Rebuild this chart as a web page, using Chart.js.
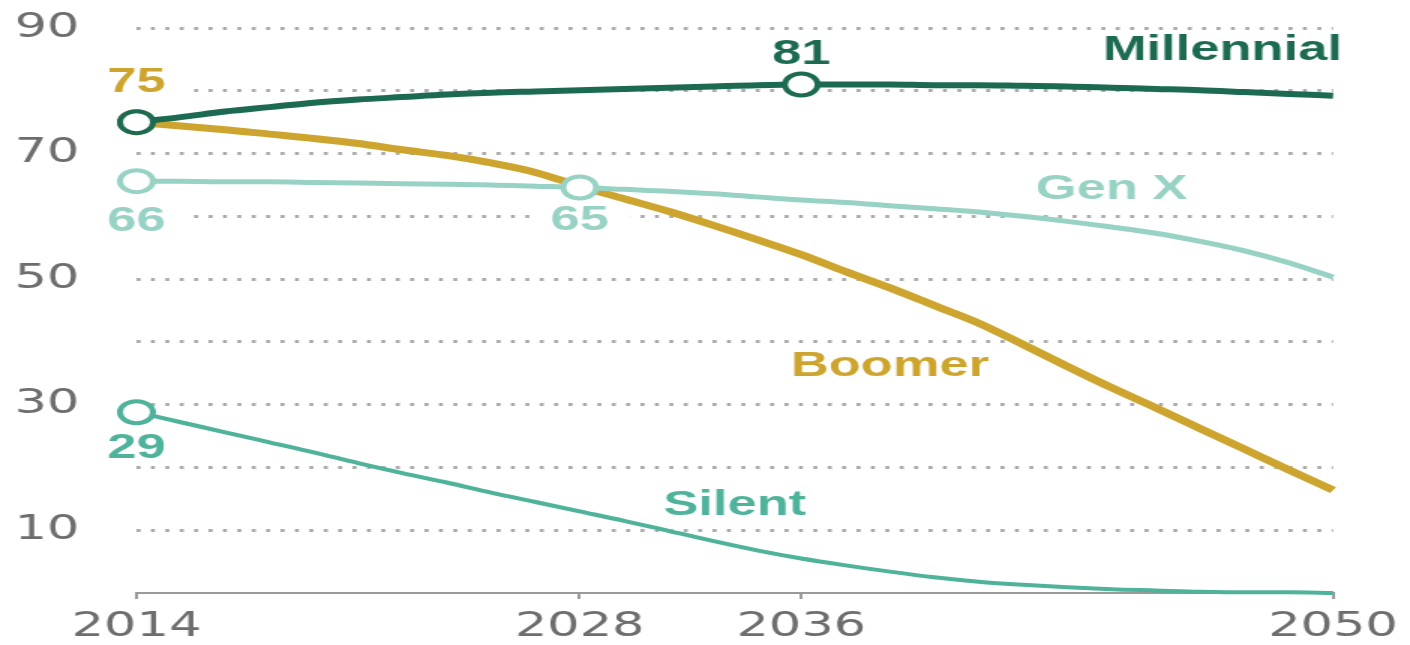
<!DOCTYPE html>
<html>
<head>
<meta charset="utf-8">
<script src="https://cdn.jsdelivr.net/npm/chart.js@4.4.1/dist/chart.umd.min.js"></script>
<style>
  html, body { margin: 0; padding: 0; background: #fff; overflow: hidden; }
  /* the source picture is stretched sideways, so the whole chart is too */
  #wrap { width: 940px; height: 645px; transform: scaleX(1.5); transform-origin: 0 0; }
</style>
</head>
<body>
<div id="wrap"><canvas id="chart"></canvas></div>
<script>
// --- DATA ---
// the source spaces its years unevenly; one slot = one step along the drawn axis
const years = ['2014','','','','','','','','','','2028','','','','','2036','','','','','','','','','','','','2050'];

const millennial = [75.0, 75.8, 76.7, 77.4, 78.1, 78.6, 79.0, 79.4, 79.7, 79.9, 80.1, 80.3, 80.5, 80.7, 80.9, 81.0, 81.0, 81.0, 80.9, 80.9, 80.8, 80.7, 80.5, 80.3, 80.1, 79.8, 79.5, 79.2];
const genX       = [65.6, 65.6, 65.5, 65.5, 65.4, 65.3, 65.2, 65.1, 65.0, 64.8, 64.6, 64.3, 64.0, 63.6, 63.1, 62.6, 62.2, 61.7, 61.2, 60.7, 60.0, 59.2, 58.3, 57.3, 56.0, 54.5, 52.6, 50.3];
const boomer     = [75.0, 74.4, 73.8, 73.1, 72.4, 71.6, 70.6, 69.7, 68.5, 67.0, 64.8, 62.8, 60.8, 58.6, 56.3, 53.9, 51.2, 48.6, 45.8, 43.0, 39.6, 36.1, 32.7, 29.5, 26.2, 22.9, 19.6, 16.4];
const silent     = [28.8, 27.2, 25.6, 24.0, 22.4, 20.7, 19.1, 17.6, 16.0, 14.5, 13.0, 11.5, 9.9, 8.3, 6.8, 5.5, 4.4, 3.4, 2.5, 1.8, 1.3, 0.9, 0.6, 0.4, 0.2, 0.1, 0.1, 0.0];

const yTickLabels = [10, 30, 50, 70, 90];

// years that get an open circle
const marks = {
    'Millennial': ['2014', '2036'],
    'Gen X': ['2014', '2028'],
    'Boomer': ['2014'],
    'Silent': ['2014']
};

// value callouts (text comes from the data)
const valueNotes = [
    { series: 'Boomer', year: '2014', dy: -40 },
    { series: 'Gen X', year: '2014', dy: 40 },
    { series: 'Millennial', year: '2036', dy: -30 },
    { series: 'Gen X', year: '2028', dy: 33 },
    { series: 'Silent', year: '2014', dy: 36 }
];

// series names, placed in data units (slot, value)
const nameNotes = [
    { text: 'Millennial', slot: 27.2, value: 86.5, align: 'right' },
    { text: 'Gen X', slot: 22, value: 64.3, align: 'center' },
    { text: 'Boomer', slot: 17, value: 36.1, align: 'center' },
    { text: 'Silent', slot: 13.5, value: 14.0, align: 'center' }
];

const colors = {
    'Millennial': '#1d6a52',
    'Gen X': '#98d2c4',
    'Boomer': '#cda52e',
    'Silent': '#4fb29b'
};

// --- CHART ---
const tickFont = { family: 'DejaVu Sans', size: 34 };
const noteFont = "bold 35px 'Liberation Sans', Arial, sans-serif";
const clear = 'rgba(0,0,0,0)';

function makeSet(name, data, width) {
    return {
        label: name,
        data: data,
        borderColor: colors[name],
        borderWidth: width,
        cubicInterpolationMode: 'monotone',
        pointRadius: c => marks[name].includes(years[c.dataIndex]) ? 11 : 0,
        pointHoverRadius: 0,
        pointBackgroundColor: '#fff',
        pointBorderColor: colors[name],
        pointBorderWidth: 4,
        clip: false
    };
}

const notesPlugin = {
    id: 'notes',
    afterDatasetsDraw(chart) {
        const ctx = chart.ctx;
        const xs = chart.scales.x, ys = chart.scales.y;
        ctx.save();
        ctx.font = noteFont;
        ctx.textBaseline = 'middle';

        valueNotes.forEach(n => {
            const di = chart.data.datasets.findIndex(d => d.label === n.series);
            const idx = years.indexOf(n.year);
            const val = chart.data.datasets[di].data[idx];
            const txt = String(Math.round(val));
            const x = xs.getPixelForValue(idx);
            const y = ys.getPixelForValue(val) + n.dy;
            const w = ctx.measureText(txt).width;
            ctx.fillStyle = '#fff';
            ctx.fillRect(x - w / 2 - 14, y - 15, w + 28, 30);
            ctx.fillStyle = colors[n.series];
            ctx.textAlign = 'center';
            ctx.fillText(txt, x, y);
        });

        nameNotes.forEach(n => {
            ctx.fillStyle = colors[n.text];
            ctx.textAlign = n.align;
            ctx.fillText(n.text, xs.getPixelForValue(n.slot), ys.getPixelForValue(n.value));
        });
        ctx.restore();
    }
};

new Chart(document.getElementById('chart'), {
    type: 'line',
    data: {
        labels: years,
        datasets: [
            makeSet('Millennial', millennial, 6),
            makeSet('Gen X', genX, 5),
            makeSet('Silent', silent, 4),
            makeSet('Boomer', boomer, 7)
        ]
    },
    options: {
        responsive: true,
        maintainAspectRatio: false,
        animation: false,
        layout: { padding: { top: 28, right: 47, bottom: 0, left: 0 } },
        plugins: { legend: { display: false }, tooltip: { enabled: false } },
        scales: {
            x: {
                afterFit: s => { s.height = 52; },
                grid: {
                    drawOnChartArea: false,
                    tickLength: 6,
                    lineWidth: 2,
                    color: c => years[c.index] ? '#9a9a9a' : clear
                },
                border: { display: true, color: '#9a9a9a', width: 2 },
                ticks: {
                    autoSkip: false,
                    maxRotation: 0,
                    padding: 8,
                    color: '#6d6d6d',
                    font: tickFont,
                    callback: (v, i) => years[i]
                }
            },
            y: {
                min: 0,
                max: 90,
                afterFit: s => { s.width = 91; },
                grid: {
                    tickLength: 36,
                    tickColor: clear,
                    lineWidth: 3,
                    color: c => c.tick.value === 0 ? clear : '#ababab'
                },
                border: { display: false, dash: [2.7, 6.9] },
                ticks: {
                    stepSize: 10,
                    padding: 2,
                    color: '#6d6d6d',
                    font: tickFont,
                    callback: v => yTickLabels.includes(v) ? String(v) : ''
                }
            }
        }
    },
    plugins: [notesPlugin]
});
</script>
</body>
</html>
